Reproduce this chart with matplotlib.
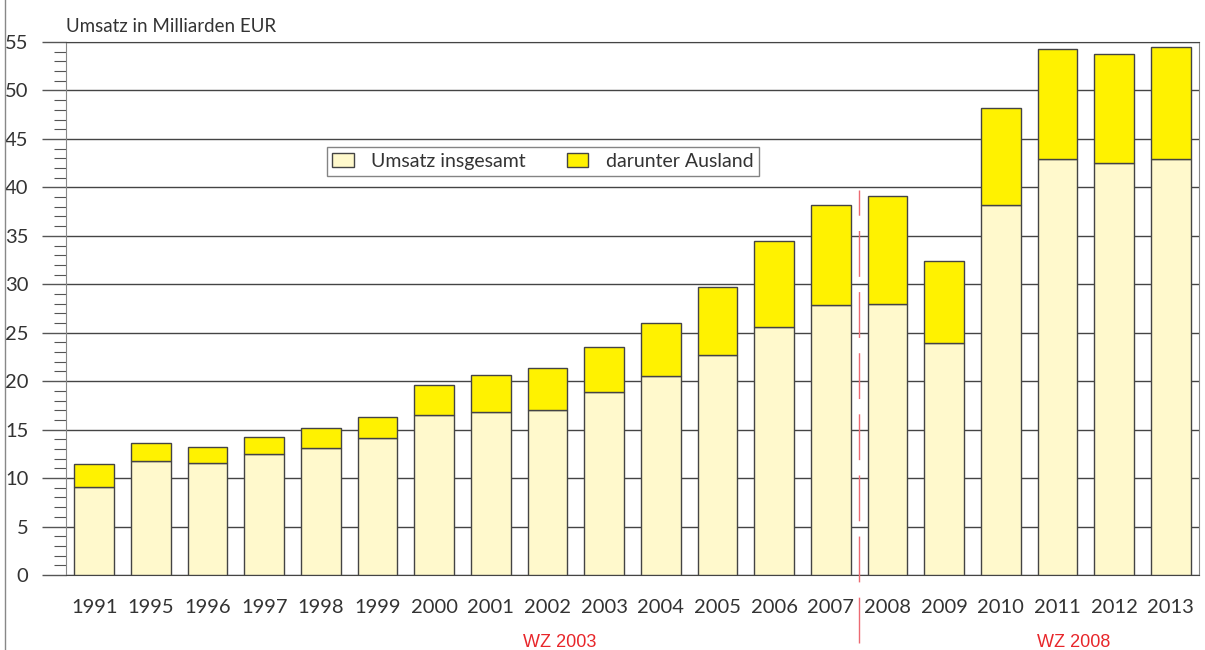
import numpy as np
import matplotlib.pyplot as plt
from matplotlib.lines import Line2D
from matplotlib.patches import Patch

# Werte (Mrd. EUR)
jahre = ['1991', '1995', '1996', '1997', '1998', '1999', '2000', '2001', '2002', '2003',
         '2004', '2005', '2006', '2007', '2008', '2009', '2010', '2011', '2012', '2013']
insgesamt = [11.45, 13.6, 13.25, 14.25, 15.15, 16.35, 19.6, 20.6, 21.35, 23.55,
             26.05, 29.7, 34.45, 38.15, 39.1, 32.45, 48.2, 54.3, 53.8, 54.5]
inland = [9.05, 11.8, 11.55, 12.45, 13.1, 14.1, 16.5, 16.8, 17.05, 18.9,
          20.55, 22.75, 25.6, 27.85, 27.95, 23.95, 38.2, 42.9, 42.5, 42.9]
ausland = [t - i for t, i in zip(insgesamt, inland)]

hellgelb = '#fff9cc'
gelb = '#fff200'
textfarbe = '#333333'

plt.rcParams['font.family'] = ['Lato', 'DejaVu Sans']

fig = plt.figure(figsize=(12.05, 6.5), dpi=100)
ax = fig.add_axes([66 / 1205, 1 - 575 / 650, 1133 / 1205, 533 / 650])

x = np.arange(len(jahre))
ax.bar(x, inland, width=0.7, color=hellgelb, edgecolor='#444444', linewidth=1, zorder=3)
ax.bar(x, ausland, bottom=inland, width=0.7, color=gelb, edgecolor='#444444', linewidth=1, zorder=3)

ax.set_xlim(-0.5, len(jahre) - 0.5)
ax.set_ylim(0, 55)
ax.set_yticks(np.arange(0, 56, 5))
ax.set_yticks(np.arange(0, 56, 1), minor=True)
ax.yaxis.grid(True, color='#444444', linewidth=1, zorder=0)
ax.tick_params(axis='y', which='major', length=17, width=1, color='#555555',
               labelsize=14.5, labelcolor=textfarbe, pad=10)
ax.tick_params(axis='y', which='minor', length=9, width=0.8, color='#555555')
ax.set_xticks(x)
ax.set_xticklabels(jahre)
ax.tick_params(axis='x', length=0, labelsize=14.5, labelcolor=textfarbe, pad=17)

for s in ['left', 'right']:
    ax.spines[s].set_color('#888888')
for s in ['top', 'bottom']:
    ax.spines[s].set_color('#444444')

ax.set_title('Umsatz in Milliarden EUR', loc='left', fontsize=13.5, color=textfarbe, x=0.0, pad=7)

# Bruch der Klassifikation WZ 2003 / WZ 2008
ax.axvline(13.5, ymin=-0.128, ymax=0.722, color='#ec6a72', linewidth=1,
           dashes=(33, 11), clip_on=False, zorder=4)
ax.text(0.436, -0.126, 'WZ 2003', transform=ax.transAxes, ha='center', va='center',
        color='#e8262a', fontsize=13, family='Liberation Sans')
ax.text(0.889, -0.126, 'WZ 2008', transform=ax.transAxes, ha='center', va='center',
        color='#e8262a', fontsize=13, family='Liberation Sans')

handles = [Patch(facecolor=hellgelb, edgecolor='#444444', label='Umsatz insgesamt'),
           Patch(facecolor=gelb, edgecolor='#444444', label='darunter Ausland')]
leg = ax.legend(handles=handles, loc='upper left', bbox_to_anchor=(0.230, 0.803),
                ncol=2, fontsize=14, frameon=True, fancybox=False, borderaxespad=0,
                handlelength=1.1, handleheight=0.7, columnspacing=2.1,
                borderpad=0.3, handletextpad=0.9, labelcolor=textfarbe)
leg.get_frame().set_edgecolor('#666666')
leg.get_frame().set_linewidth(1)
leg.set_zorder(5)

fig.add_artist(Line2D([5 / 1205, 5 / 1205], [0, 1], color='#888888', linewidth=1))

fig.savefig('out.png', dpi=100)
